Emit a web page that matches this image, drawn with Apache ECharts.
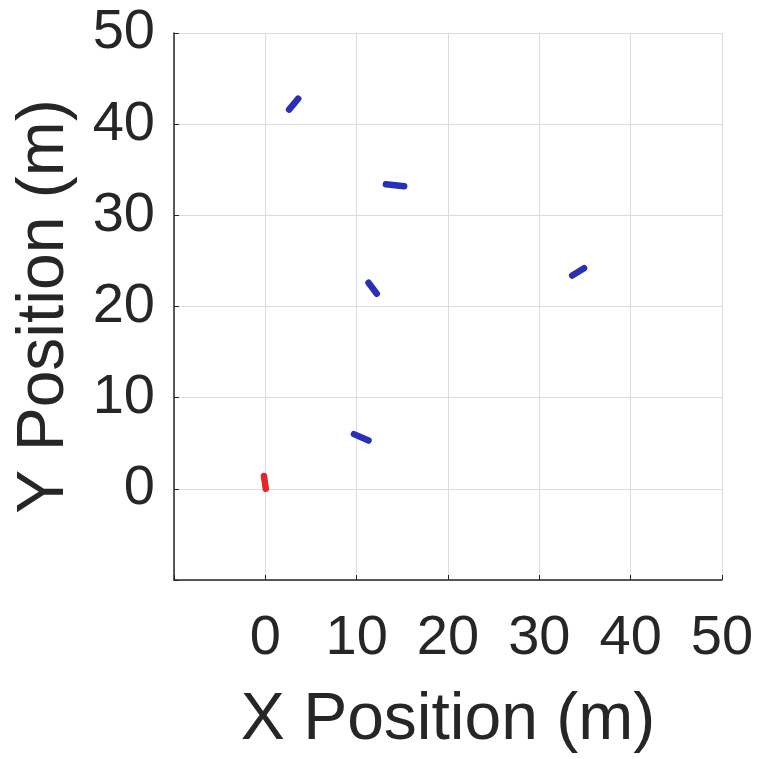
<!DOCTYPE html>
<html>
<head>
<meta charset="utf-8">
<script src="https://cdn.jsdelivr.net/npm/echarts@6/dist/echarts.min.js"></script>
<style>
  html, body { margin: 0; padding: 0; background: #fff; }
  #chart { width: 762px; height: 759px; }
</style>
</head>
<body>
<div id="chart"></div>
<script>
// track segments, [x, y] in metres
const redTrack = [[-0.15, 1.4], [0.05, 0.0]]
const blueTracks = [
  [[2.6, 41.6], [3.6, 42.8]],
  [[13.2, 33.4], [15.2, 33.2]],
  [[11.3, 22.6], [12.2, 21.4]],
  [[33.6, 23.4], [34.9, 24.2]],
  [[9.7, 6.0], [11.3, 5.3]]
]
const xTicks = [-10, 0, 10, 20, 30, 40, 50]
const yTicks = [-10, 0, 10, 20, 30, 40, 50]

const font = 'Liberation Sans, Arial, sans-serif'

const axisCommon = (ticks, name) => ({
  type: 'value',
  min: ticks[0],
  max: ticks[ticks.length - 1],
  interval: 10,
  name: name,
  nameLocation: 'middle',
  nameTextStyle: { fontFamily: font, fontSize: 66, color: '#262626' },
  axisLine: { show: true, onZero: false, lineStyle: { color: '#262626', width: 1.5 } },
  axisTick: { show: true, inside: true, length: 5, lineStyle: { color: '#262626' } },
  axisLabel: {
    fontFamily: font,
    fontSize: 56,
    color: '#262626',
    formatter: (v) => (v === ticks[0] ? '' : String(v))
  },
  splitLine: { show: true, lineStyle: { color: '#dcdcdc', width: 1 } }
})

const lineSeries = (pts, color) => ({
  type: 'line',
  data: pts,
  symbol: 'none',
  lineStyle: { color: color, width: 6.5, cap: 'round' },
  silent: true,
  animation: false
})

const chart = echarts.init(document.getElementById('chart'))

const xAxis = axisCommon(xTicks, 'X Position (m)')
xAxis.nameGap = 108
xAxis.axisLabel.margin = 31

const yAxis = axisCommon(yTicks, 'Y Position (m)')
yAxis.nameGap = 96
yAxis.axisLabel.margin = 19

chart.setOption({
  animation: false,
  grid: { left: 174, right: 40, top: 33, bottom: 179, containLabel: false },
  xAxis: xAxis,
  yAxis: yAxis,
  series: [
    lineSeries(redTrack, '#e2262b'),
    ...blueTracks.map(t => lineSeries(t, '#2a2fb8'))
  ]
})
</script>
</body>
</html>
